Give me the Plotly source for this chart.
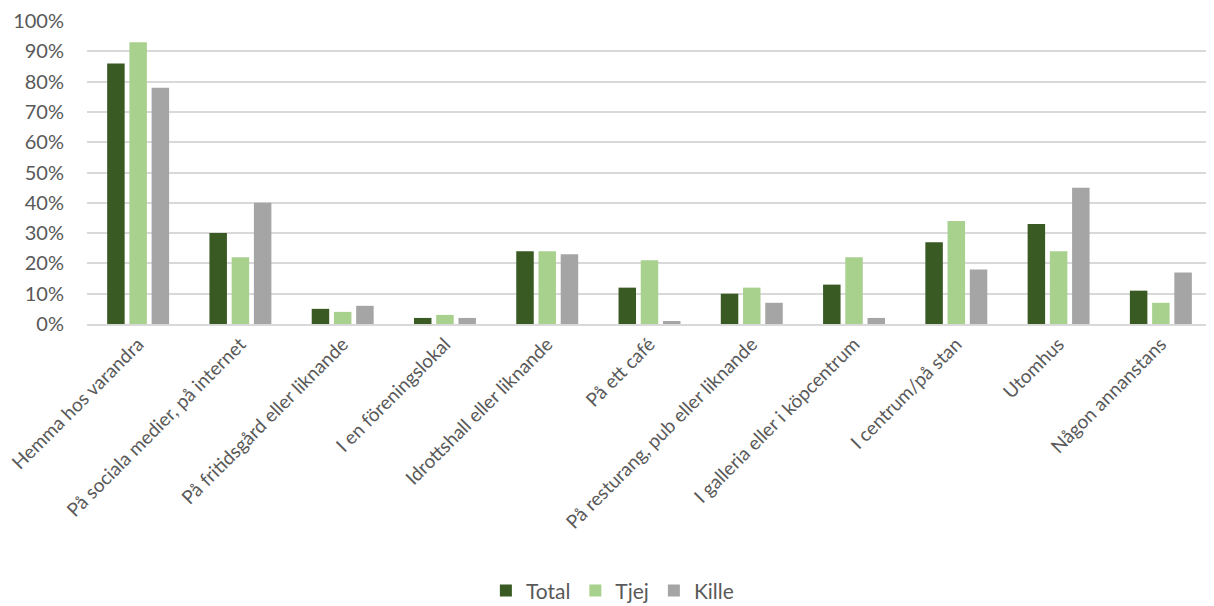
import plotly.graph_objects as go

categories = ["Hemma hos varandra", "På sociala medier, på internet", "På fritidsgård eller liknande",
              "I en föreningslokal", "Idrottshall eller liknande", "På ett café",
              "På resturang, pub eller liknande", "I galleria eller i köpcentrum",
              "I centrum/på stan", "Utomhus", "Någon annanstans"]
total = [0.86, 0.30, 0.05, 0.02, 0.24, 0.12, 0.10, 0.13, 0.27, 0.33, 0.11]
tjej = [0.93, 0.22, 0.04, 0.03, 0.24, 0.21, 0.12, 0.22, 0.34, 0.24, 0.07]
kille = [0.78, 0.40, 0.06, 0.02, 0.23, 0.01, 0.07, 0.02, 0.18, 0.45, 0.17]
y_ticks = [0, 0.1, 0.2, 0.3, 0.4, 0.5, 0.6, 0.7, 0.8, 0.9, 1.0]

fig = go.Figure()
for name, vals, color in [("Total", total, "#3A5A24"), ("Tjej", tjej, "#A9D18E"), ("Kille", kille, "#A5A5A5")]:
    fig.add_trace(go.Bar(x=categories, y=vals, name=name, marker=dict(color=color, line=dict(width=0))))

fig.update_layout(
    width=1214, height=606,
    margin=dict(l=79, r=10, t=13, b=290),
    paper_bgcolor="white", plot_bgcolor="white",
    barmode="group", bargap=0.348, bargroupgap=0.213,
    font=dict(family="Lato, Open Sans, sans-serif", color="#595959"),
    legend=dict(orientation="h", x=0.467, xanchor="center", yref="container", y=0.038,
                yanchor="middle", font=dict(size=21, color="#595959"), traceorder="normal"),
    xaxis=dict(tickangle=-45, tickfont=dict(size=19, color="#595959"), showline=True,
               linecolor="#D9D9D9", linewidth=1.5, ticks="", showgrid=False, automargin=False),
    yaxis=dict(range=[0, 1.0], tickvals=y_ticks, tickformat=".0%", showgrid=True,
               gridcolor="#D9D9D9", gridwidth=1.5, zeroline=False, automargin=False,
               tickfont=dict(size=20, color="#595959"), ticks="", ticklen=0,
               ticklabelstandoff=22, ticklabeloverflow="allow"),
)
fig.write_html("out.html")
